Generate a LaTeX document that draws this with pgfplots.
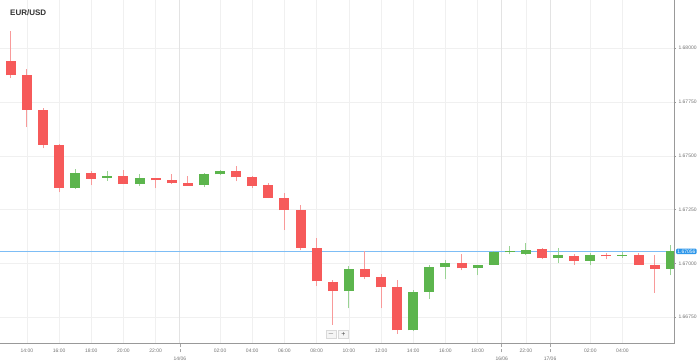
\documentclass[border=0pt]{standalone}
\usepackage{fontspec}
\setmainfont{Liberation Sans}
\usepackage{pgfplots}
\usepackage{pgfplotstable}
\pgfplotsset{compat=1.18}

\definecolor{bear}{HTML}{F65A5A}
\definecolor{bull}{HTML}{5CB54D}
\definecolor{bearwick}{HTML}{F89A9A}
\definecolor{bullwick}{HTML}{9AD394}
\definecolor{priceline}{HTML}{7DBDF5}
\definecolor{pricetag}{HTML}{2E97EA}

% bearish (red) candles: x, open, high, low, close
\pgfplotstableread{
x O H L C
0 1.67941 1.68079 1.67862 1.67874
1 1.67877 1.67905 1.67633 1.67714
2 1.67715 1.67722 1.67535 1.67552
3 1.67552 1.67556 1.67330 1.67352
5 1.67422 1.67431 1.67364 1.67394
7 1.67404 1.67434 1.67368 1.67369
9 1.67395 1.67398 1.67350 1.67386
10 1.67388 1.67416 1.67371 1.67372
11 1.67374 1.67408 1.67360 1.67361
14 1.67430 1.67451 1.67381 1.67400
15 1.67403 1.67408 1.67350 1.67361
16 1.67364 1.67372 1.67303 1.67304
17 1.67304 1.67328 1.67157 1.67248
18 1.67248 1.67270 1.67061 1.67074
19 1.67072 1.67117 1.66895 1.66917
20 1.66915 1.66921 1.66716 1.66871
22 1.66974 1.67058 1.66926 1.66937
23 1.66935 1.66949 1.66791 1.66889
24 1.66890 1.66921 1.66674 1.66689
28 1.67004 1.67046 1.66968 1.66977
33 1.67066 1.67073 1.67019 1.67024
35 1.67036 1.67042 1.66994 1.67013
37 1.67041 1.67049 1.67019 1.67033
39 1.67038 1.67049 1.66993 1.66994
40 1.66994 1.67038 1.66863 1.66975
}\bear

% bullish (green) candles: x, open, high, low, close
\pgfplotstableread{
x O H L C
4 1.67350 1.67440 1.67348 1.67422
6 1.67398 1.67431 1.67384 1.67405
8 1.67369 1.67414 1.67360 1.67397
12 1.67364 1.67418 1.67353 1.67417
13 1.67414 1.67434 1.67409 1.67430
21 1.66871 1.66986 1.66791 1.66975
25 1.66689 1.66875 1.66685 1.66868
26 1.66868 1.66993 1.66835 1.66985
27 1.66983 1.67016 1.66927 1.67002
29 1.66977 1.66995 1.66944 1.66994
30 1.66993 1.67056 1.66992 1.67055
31 1.67051 1.67081 1.67042 1.67056
32 1.67042 1.67094 1.67039 1.67064
34 1.67024 1.67070 1.67003 1.67039
36 1.67013 1.67049 1.66991 1.67039
38 1.67035 1.67052 1.67027 1.67041
41 1.66975 1.67086 1.66944 1.67056
}\bull

\begin{document}
\begin{tikzpicture}
\begin{axis}[
  name=ax, at={(0,0)}, anchor=south west,
  width=674pt, height=343.5pt, scale only axis,
  xmin=-0.67, xmax=41.2, ymin=1.66628, ymax=1.68224,
  axis line style={draw=none},
  tick align=outside, major tick length=2pt,
  xtick pos=left, ytick pos=right, yticklabel pos=right,
  xtick={1,3,5,7,9,13,15,17,19,21,23,25,27,29,32,36,38},
  xticklabels={14:00,16:00,18:00,20:00,22:00,02:00,04:00,06:00,08:00,10:00,12:00,14:00,16:00,18:00,22:00,02:00,04:00},
  extra x ticks={10.5,30.5,33.5},
  extra x tick labels={14/06,16/06,17/06},
  extra x tick style={major tick length=9pt, xtick style={draw=black!35, densely dashed, line width=0.6pt}, xticklabel style={yshift=-0.5pt}, grid style={black!11, line width=0.7pt}},
  xtick style={draw=none},
  ytick={1.6675,1.67,1.6725,1.675,1.6775,1.68},
  yticklabels={1.66750,1.67000,1.67250,1.67500,1.67750,1.68000},
  ytick style={draw=black!40, line width=0.5pt},
  grid=major, grid style={black!6, line width=0.6pt},
  ticklabel style={font=\fontsize{5}{6}\selectfont, text=black!55},
  yticklabel style={xshift=-1pt},
  candle/.style={draw=none, no markers, forget plot},
]
\addplot[draw=priceline, line width=1.1pt, no markers] coordinates {(-0.67,1.67056) (41.2,1.67056)};
% wicks
\addplot[candle, error bars/.cd, y dir=plus, y explicit, error mark=none,
  error bar style={draw=bearwick, line width=0.9pt, solid}]
  table[x=x, y=L, y error expr=\thisrow{H}-\thisrow{L}] {\bear};
\addplot[candle, error bars/.cd, y dir=plus, y explicit, error mark=none,
  error bar style={draw=bullwick, line width=0.9pt, solid}]
  table[x=x, y=L, y error expr=\thisrow{H}-\thisrow{L}] {\bull};
% bodies
\addplot[candle, error bars/.cd, y dir=plus, y explicit, error mark=none,
  error bar style={draw=bear, line width=10pt, solid}]
  table[x=x, y=C, y error expr=\thisrow{O}-\thisrow{C}] {\bear};
\addplot[candle, error bars/.cd, y dir=plus, y explicit, error mark=none,
  error bar style={draw=bull, line width=10pt, solid}]
  table[x=x, y=O, y error expr=\thisrow{C}-\thisrow{O}] {\bull};
\coordinate (tag) at (axis cs:41.2,1.67056);
\end{axis}
\draw[black!40, line width=0.8pt] (ax.south west) -- (ax.south east) -- (ax.north east);
\node[fill=pricetag, text=white, font=\fontsize{5}{6}\selectfont, rounded corners=1pt,
  inner xsep=1.2pt, inner ysep=0.9pt, anchor=west] at ([xshift=2pt]tag) {1.67056};
\node[anchor=west, font=\bfseries\fontsize{8}{9}\selectfont, text=black!80, inner sep=0pt]
  at ([xshift=10pt, yshift=-12.5pt]ax.north west) {EUR/USD};
\node[draw=black!15, fill=black!4, minimum width=9.5pt, minimum height=8pt, inner sep=0pt,
  font=\fontsize{7}{7}\selectfont, text=black!70] at ([xshift=331pt, yshift=9.5pt]ax.south west) {$-$};
\node[draw=black!15, fill=black!4, minimum width=9.5pt, minimum height=8pt, inner sep=0pt,
  font=\fontsize{7}{7}\selectfont, text=black!70] at ([xshift=343.3pt, yshift=9.5pt]ax.south west) {+};
\pgfresetboundingbox
\path[use as bounding box] ([yshift=-19.5pt]ax.south west) rectangle ([xshift=25pt]ax.north east);
\end{tikzpicture}
\end{document}
